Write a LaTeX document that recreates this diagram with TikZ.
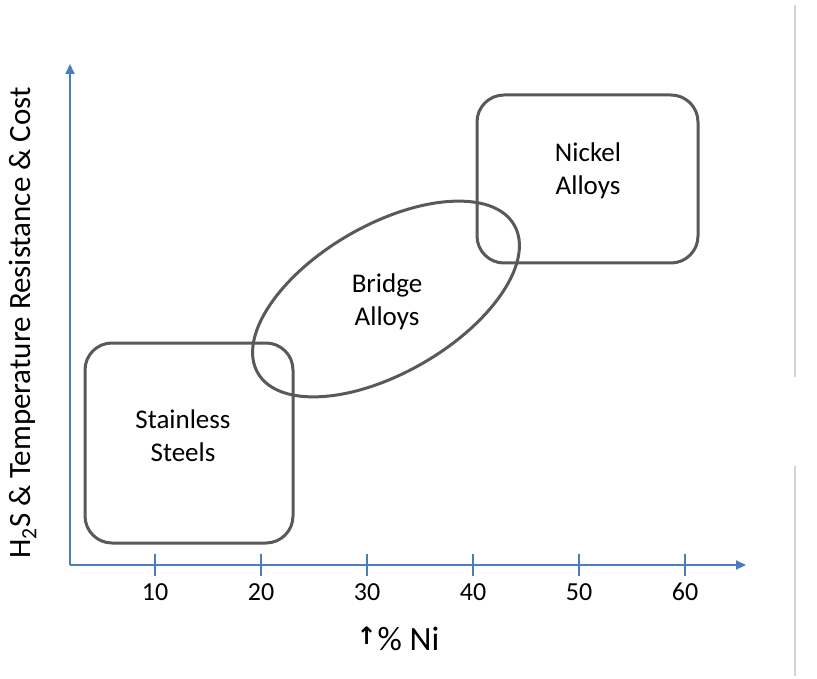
\documentclass[tikz,border=0pt]{standalone}
\usepackage{fontspec}
\setmainfont{Carlito}
\newfontfamily\symfont{DejaVu Sans}
\usepackage{xcolor}
\usepackage{tikz}
\usetikzlibrary{arrows.meta,positioning,shapes.geometric}
\definecolor{axisblue}{HTML}{4A7EBB}
\definecolor{boxgrey}{HTML}{595959}
\definecolor{rulegrey}{HTML}{D4D4D4}

\begin{document}
\begin{tikzpicture}[x=1pt, y=-1pt,
    group/.style={draw=boxgrey, line width=3pt, rounded corners=27pt},
    grouplab/.style={align=center, font=\fontsize{27}{33}\selectfont},
    bridge/.style={draw=boxgrey, line width=3pt, ellipse, inner sep=0pt, minimum width=296pt, minimum height=148pt, rotate=30},
    axis/.style={draw=axisblue, line width=2pt, -{Triangle[length=10pt,width=9pt]}},
    tickmark/.style={draw=axisblue, line width=1.3pt},
    ticklab/.style={font=\fontsize{26}{28}\selectfont},
    axlab/.style={font=\fontsize{31}{36}\selectfont}
]
\useasboundingbox (0,0) rectangle (817,679);

% axes
\coordinate (o) at (70,565);
\coordinate (xend) at (746,565);
\coordinate (yend) at (70,64);
\draw[axis] (o) -- (xend);
\draw[axis] (o) -- (yend);

\foreach \v in {10,20,...,60} {
    \draw[tickmark] (49+10.6*\v,554) -- (49+10.6*\v,576);
    \node[ticklab] (t\v) at (49+10.6*\v,592) {\v};
}

\node[axlab, rotate=90] (ylab) at (23,323) {H\textsubscript{2}S \& Temperature Resistance \& Cost};
\node[axlab, font=\fontsize{34}{38}\selectfont] (xlab) at (398,639)
    {{\symfont\bfseries\fontsize{24}{24}\selectfont\raisebox{6pt}{↑}}\kern1pt\% Ni};

% alloy groups
\node[group, minimum width=208pt, minimum height=200pt] (ss) at (189,443) {};
\node[group, minimum width=221pt, minimum height=168pt] (ni) at (587.5,179) {};
\node[bridge] (br) at (386,299) {};
\node[grouplab] (sslab) at (183,436) {Stainless\\Steels};
\node[grouplab] (nilab) at (588,171) {Nickel\\Alloys};
\node[grouplab] (brlab) at (387,302) {Bridge\\Alloys};

% side rule
\draw[rulegrey, line width=1.5pt] (795,5) -- (795,377);
\draw[rulegrey, line width=1.5pt] (795,466) -- (795,676);

\end{tikzpicture}
\end{document}
